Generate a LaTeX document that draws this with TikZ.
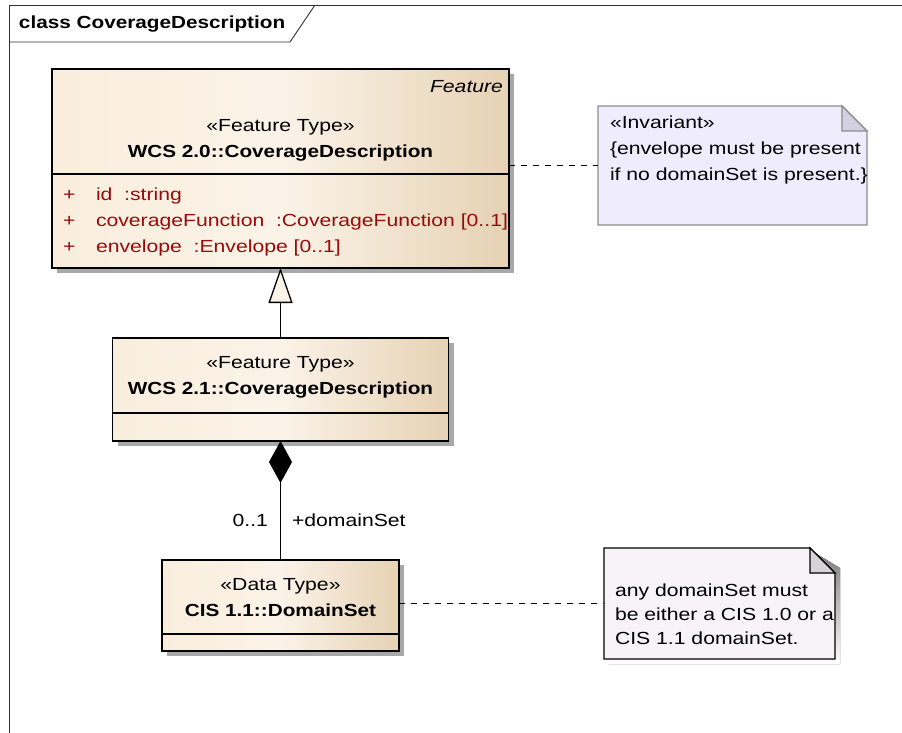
\documentclass[tikz,border=0pt]{standalone}
\usepackage{fontspec}
\setmainfont{Liberation Sans}[FakeStretch=1.21,BoldFeatures={FakeStretch=1.185},ItalicFeatures={FakeStretch=1.21}]
\usetikzlibrary{arrows.meta,shadows}
\definecolor{attr}{HTML}{9A0A0A}
\definecolor{creamL}{HTML}{F9EEDD}
\definecolor{creamM}{HTML}{FBF3E8}
\definecolor{creamR}{HTML}{E6D2B4}
\definecolor{noteA}{HTML}{EFEDFD}
\definecolor{foldA}{HTML}{D2D0E2}
\definecolor{noteB}{HTML}{F7F3F7}
\definecolor{foldB}{HTML}{D6D2D6}
\definecolor{shade}{HTML}{A8A8A8}
\definecolor{frameC}{HTML}{303030}
\begin{document}
\begin{tikzpicture}[x=1pt,y=-1pt,
  txt/.style={inner sep=0pt,outer sep=0pt,text height=14pt,text depth=1pt,font=\fontsize{17.5}{21}\selectfont},
  btxt/.style={txt,font=\fontsize{17.5}{21}\selectfont\bfseries},
  atxt/.style={txt,text=attr,anchor=west},
  classbox/.style={draw=black,line width=1.4pt,inner sep=0pt,outer sep=0pt,
    left color=creamL,right color=creamR,middle color=creamM,
    drop shadow={shadow xshift=5pt,shadow yshift=-5pt,fill=shade,opacity=1}},
  notebox/.style={inner sep=0pt,outer sep=0pt},
  dline/.style={dash pattern=on 6pt off 6pt,line width=1.5pt},
  conn/.style={line width=1.3pt}
]
\useasboundingbox (0,0) rectangle (902,733);
% frame
\draw[frameC,line width=0.9pt] (9,733) -- (9,5) -- (902,5);
\draw[frameC,line width=0.9pt] (9,42) -- (290,42) -- (315,5);
\node[btxt,anchor=west] (title) at (19,22) {class CoverageDescription};

% class 1
\node[classbox,minimum width=457pt,minimum height=199pt] (c1) at (280.5,168.5) {};
\draw[line width=1.4pt] (52,174) -- (509,174);
\node[txt,anchor=east,font=\fontsize{17.5}{21}\selectfont\itshape] (fe) at (503,86) {Feature};
\node[txt] (s1) at (280.5,125) {«Feature Type»};
\node[btxt] (t1) at (280.5,151) {WCS 2.0::CoverageDescription};
\node[atxt] (p1) at (63,194) {+};
\node[atxt] (a1) at (96,194) {id~~:string};
\node[atxt] (p2) at (63,220) {+};
\node[atxt] (a2) at (96,220) {coverageFunction~~:CoverageFunction [0..1]};
\node[atxt] (p3) at (63,246) {+};
\node[atxt] (a3) at (96,246) {envelope~~:Envelope [0..1]};

% class 2
\node[classbox,minimum width=336pt,minimum height=103pt] (c2) at (280.5,389.5) {};
\draw[line width=1.4pt] (112,413) -- (449,413);
\node[txt] (s2) at (280.5,362) {«Feature Type»};
\node[btxt] (t2) at (280.5,388) {WCS 2.1::CoverageDescription};

% class 3
\node[classbox,minimum width=237pt,minimum height=91pt] (c3) at (280.5,605.5) {};
\draw[line width=1.4pt] (162,634) -- (399,634);
\node[txt] (s3) at (280.5,584) {«Data Type»};
\node[btxt] (t3) at (280.5,610) {CIS 1.1::DomainSet};

% generalization
\draw[conn,-{Triangle[length=35pt,width=24pt,fill=creamM,line width=1.3pt]}] (c2.north) -- (c1.south);
% composition
\draw[conn,{Diamond[length=42pt,width=23pt]}-] (c2.south) -- (c3.north);
\node[txt,anchor=east] (m1) at (268,520) {0..1};
\node[txt,anchor=west] (r1) at (292,520) {+domainSet};

% note 1 (grey border, no shadow)
\node[notebox,minimum width=269pt,minimum height=119pt] (n1) at (732.5,165.5) {};
\draw[draw=black!45,line width=1.3pt,fill=noteA] (n1.north west) -- ([xshift=-25pt]n1.north east) -- ([yshift=-25pt]n1.north east) -- (n1.south east) -- (n1.south west) -- cycle;
\draw[draw=black!45,line width=1.3pt,fill=foldA] ([xshift=-25pt]n1.north east) -- ([xshift=-25pt,yshift=-25pt]n1.north east) -- ([yshift=-25pt]n1.north east) -- cycle;
\node[txt,anchor=west] (n1l1) at (610,122) {«Invariant»};
\node[txt,anchor=west] (n1l2) at (610,148) {\{envelope must be present};
\node[txt,anchor=west] (n1l3) at (610,174) {if no domainSet is present.\}};
\draw[dline] (n1.west -| c1.east) -- (n1.west);

% note 2 (black border, shadow)
\node[notebox,minimum width=231pt,minimum height=111pt] (n2) at (719.5,603.5) {};
\fill[shade] ([xshift=5pt,yshift=-5pt]n2.north west) -- ([xshift=-20pt,yshift=-5pt]n2.north east) -- ([xshift=5pt,yshift=-20pt]n2.north east) -- ([xshift=5pt,yshift=-5pt]n2.south east) -- ([xshift=5pt,yshift=-5pt]n2.south west) -- cycle;
\draw[draw=black,line width=1.3pt,fill=noteB] (n2.north west) -- ([xshift=-25pt]n2.north east) -- ([yshift=-25pt]n2.north east) -- (n2.south east) -- (n2.south west) -- cycle;
\draw[draw=black,line width=1.3pt,fill=foldB] ([xshift=-25pt]n2.north east) -- ([xshift=-25pt,yshift=-25pt]n2.north east) -- ([yshift=-25pt]n2.north east) -- cycle;
\node[txt,anchor=west] (n2l1) at (615,590) {any domainSet must};
\node[txt,anchor=west] (n2l2) at (615,614) {be either a CIS 1.0 or a};
\node[txt,anchor=west] (n2l3) at (615,638) {CIS 1.1 domainSet.};
\draw[dline] (n2.west -| c3.east) -- (n2.west);
\end{tikzpicture}
\end{document}
